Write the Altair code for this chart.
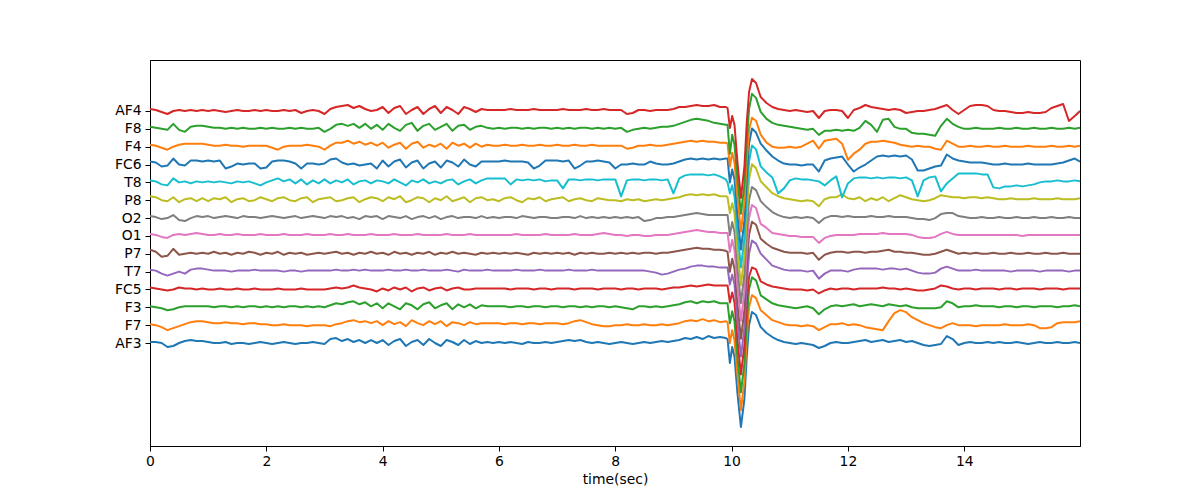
import altair as alt
import pandas as pd

channels = ["AF3", "F7", "F3", "FC5", "T7", "P7", "O1", "O2", "P8", "T8", "FC6", "F4", "F8", "AF4"]
colors = ["#1f77b4", "#ff7f0e", "#2ca02c", "#d62728", "#9467bd", "#8c564b", "#e377c2",
          "#7f7f7f", "#bcbd22", "#17becf", "#1f77b4", "#ff7f0e", "#2ca02c", "#d62728"]
spacing = 17.85

# sample times (sec): 0.0..9.9, finer around the artifact, then 10.5..15.9 and the last sample
pre_time = [round(0.1 * k, 2) for k in range(100)]
spike_time = [9.93, 9.97, 10.01, 10.05, 10.1, 10.16, 10.22, 10.26, 10.3, 10.35, 10.42]
post_time = [round(10.5 + 0.1 * k, 2) for k in range(55)] + [15.99]
time = pre_time + spike_time + post_time

af3 = [1, 1, 0, -4, -3, 0, 2, 3, 2, 2,
       1, 0, 0, 1, -1, 0, 0, -1, 0, 1,
       0, -1, 0, 1, 0, -1, 0, 0, 1, 0,
       -1, 4, 5, 2, 4, 1, 3, 0, 3, 0,
       3, -2, 2, 4, -3, 1, 3, -2, 4, 0,
       -3, 3, 1, -2, 3, -1, 2, 0, 1, 0,
       1, 0, 1, 0, -1, 1, 0, 0, 1, 0,
       1, 2, 3, 2, 3, 1, 0, 1, 0, -1,
       0, 1, 0, -1, 0, 1, 0, 1, 2, 1,
       2, 3, 5, 4, 6, 4, 7, 5, 6, 5,
       4, -20, -4, -14, -50, -84, -56, -14, 18, 31, 28,
       16, 10, 6, 3, 1, 0, -1, 0, -1, -2,
       -5, -3, 0, 1, 0, 0, 1, 2, 3, 1,
       2, 3, 1, 2, 3, 1, 2, 0, -2, -3,
       -2, -1, 7, 4, -2, 0, 1, 0, 0, 1,
       0, 1, 0, 0, 1, 0, -1, 0, 1, 0,
       0, 1, 0, 0, 1, 0]

f7 = [1, 0, -2, -5, -3, -1, 1, 3, 4, 4,
      3, 2, 2, 3, 2, 2, 1, 2, 2, 1,
      1, 0, 0, 1, 0, 0, 0, -1, 0, 0,
      0, -1, 1, 2, 4, 5, 3, 4, 2, 4,
      0, 4, 1, 3, -1, 5, 2, 0, 4, 1,
      4, -1, 3, 2, 0, 3, 1, 2, 2, 2,
      2, 1, 2, 2, 1, 2, 2, 1, 2, 2,
      2, 1, 2, 4, 5, 3, 1, 0, -1, -1,
      0, 0, 1, 0, 0, 1, 0, 0, 1, 0,
      1, 2, 4, 5, 4, 6, 4, 5, 3, 4,
      3, -18, -5, -15, -50, -85, -56, -14, 18, 30, 27,
      15, 10, 5, 3, 1, 0, 0, -1, 0, -1,
      -5, -2, 1, 1, 2, 0, 1, 0, -2, -3,
      -4, -5, 4, 12, 15, 13, 8, 5, 2, 0,
      -2, -3, 0, 2, 0, 0, 0, -1, 0, 0,
      0, 0, 1, 0, 0, 0, 1, 0, -3, -3,
      -2, 2, 3, 3, 3, 4]

f3 = [1, 0, -1, -3, -2, 0, 1, 1, 1, 1,
      1, 0, 1, 1, 0, 1, 0, 1, 1, 0,
      1, 0, 1, 0, 1, 1, 0, 1, 0, 1,
      0, 2, 4, 3, 5, 6, 3, 5, 1, 4,
      -1, 4, 1, -2, 4, 2, -2, 3, 5, -1,
      2, 4, -2, 3, 0, 3, -1, 2, 1, 1,
      1, 1, 0, 1, 1, 0, 1, 1, 0, 1,
      1, 0, 1, 1, 0, 1, 0, 1, 1, 0,
      1, 0, -1, -2, 1, 1, 0, 1, 0, 1,
      2, 3, 5, 6, 4, 6, 5, 6, 4, 4,
      4, -16, -4, -14, -50, -85, -56, -14, 18, 30, 27,
      12, 8, 4, 2, 1, 0, -1, 0, 1, -1,
      -7, -2, 1, 2, 1, 2, 3, 1, 2, 3,
      2, 1, 3, 2, 1, 2, 0, -1, -1, -1,
      -1, 0, 6, 4, 0, 1, 1, 2, 1, 1,
      1, 0, 1, 1, 0, 1, 1, 0, 1, 1,
      1, 0, 1, 1, 2, 1]

fc5 = [2, 1, 0, -1, 0, 2, 1, 1, 0, 1,
       0, 0, 1, 0, 0, 1, 0, 0, 1, 0,
       0, 0, 1, 0, 0, 0, 1, 0, 0, 0,
       0, 1, 2, 1, 2, 4, 2, 1, 0, -2,
       1, -1, 2, 0, 2, -2, 1, 2, -1, 1,
       2, -1, 1, 2, 0, 0, 1, 1, 1, 1,
       1, 1, 0, 1, 1, 1, 0, 1, 1, 0,
       1, 1, 1, 0, 1, 1, 1, 0, 1, 1,
       1, 0, 1, 1, 0, 1, 1, 1, 0, 1,
       2, 2, 3, 4, 3, 4, 5, 4, 4, 4,
       4, -13, -3, -13, -50, -85, -56, -14, 13, 22, 20,
       8, 5, 3, 2, 1, 0, 0, 0, -1, 0,
       -4, -1, 1, 0, 1, 1, 0, 1, 1, 1,
       1, 2, 1, 1, 0, 1, 0, -1, -1, 0,
       1, 4, 3, 1, 0, 1, 1, 0, 1, 1,
       1, 0, 1, 1, 0, 1, 1, 1, 0, 1,
       1, 1, 0, 1, 1, 1]

t7 = [2, 1, -2, -4, -2, 0, -2, 2, 3, 3,
      2, 1, 1, 1, 0, 1, 1, 1, 2, 1,
      1, 1, 1, 0, 1, 1, 0, 1, 1, 1,
      1, 1, 2, 1, 1, 2, 1, 2, 1, 1,
      1, 2, 1, 1, 2, 1, 1, 2, 1, 1,
      1, 2, 1, 0, 2, 1, 1, 1, 2, 1,
      1, 1, 1, 2, 1, 1, 1, 2, 1, 1,
      1, 1, 2, 1, 1, 1, 2, 1, 1, 1,
      1, 1, 1, 1, 1, 1, 0, -1, -3, -2,
      0, 2, 3, 5, 6, 6, 5, 5, 4, 4,
      4, -13, -3, -13, -50, -85, -56, -14, 18, 31, 28,
      18, 12, 6, 4, 2, 1, 1, 1, 0, 1,
      -7, -2, 1, 1, 1, 0, 2, 3, 3, 3,
      3, 2, 3, 3, 2, 3, 1, -1, -2, -2,
      -1, 3, 5, 3, 1, 1, 1, 2, 1, 1,
      1, 1, 1, 0, 1, 1, 1, 1, 0, 1,
      1, 1, 1, 0, 1, 1]

p7 = [4, 2, -3, -2, 5, -1, 0, 1, 0, 1,
      0, 2, 0, 1, -1, 1, 0, 2, 1, -1,
      1, 0, 2, -1, 1, 0, 1, -1, 0, 1,
      0, 1, 2, 0, 1, -1, 1, 0, 2, 0,
      1, -1, 2, 0, 1, -1, 1, 0, 2, -1,
      1, 0, 2, 0, 1, 0, -1, 1, 0, 1,
      0, 1, 0, 1, 0, -1, 1, 0, 1, 0,
      1, 0, 1, -1, 1, 0, 1, 0, 0, 1,
      0, 1, 0, 1, 0, 1, 1, 0, 1, 1,
      2, 3, 4, 5, 6, 5, 5, 4, 4, 3,
      2, -18, -5, -15, -50, -85, -56, -14, 19, 32, 29,
      15, 10, 6, 4, 2, 1, 1, 1, 0, 1,
      -6, -1, 1, 2, 2, 1, 2, 2, 1, 2,
      2, 3, 4, 2, 2, 1, 1, 0, -1, -1,
      0, 2, 4, 2, 0, 1, 0, 1, 0, 0,
      1, 0, 0, 1, 0, 0, 1, 0, 0, 1,
      0, 0, 1, 0, 0, 0]

o1 = [2, 1, -1, -2, 1, 2, 1, 2, 3, 2,
      1, 1, 2, 1, 1, 2, 1, 1, 1, 2,
      1, 1, 1, 2, 1, 1, 1, 2, 1, 1,
      1, 2, 1, 1, 2, 1, 1, 1, 2, 1,
      1, 1, 2, 1, 1, 1, 2, 1, 1, 1,
      1, 2, 1, 1, 1, 2, 1, 1, 1, 1,
      1, 1, 1, 2, 1, 1, 1, 1, 2, 1,
      1, 1, 1, 2, 1, 1, 1, 2, 3, 2,
      1, 1, 0, 1, 1, 0, 0, 1, 1, 1,
      2, 3, 4, 5, 6, 5, 4, 4, 3, 3,
      3, -16, -4, -14, -50, -85, -56, -14, 18, 31, 28,
      12, 8, 3, 2, 1, 0, 0, -1, -1, -1,
      -7, -2, 0, 1, 1, 1, 1, 2, 2, 2,
      2, 3, 2, 2, 2, 2, 1, -1, -2, -2,
      -1, 2, 4, 2, 1, 1, 1, 1, 1, 1,
      1, 1, 1, 1, 1, 0, 1, 1, 1, 1,
      1, 1, 1, 1, 1, 1]

o2 = [2, 1, -1, 0, 3, -2, -3, 0, 2, 1,
      2, 0, 1, 2, 1, 0, 2, 1, 1, 0,
      1, 2, 1, 0, 1, 2, 0, 1, 2, 1,
      0, 2, 1, 2, 0, 1, -1, 2, 1, 2,
      -1, 2, 1, 0, 2, -1, 1, 2, 0, 2,
      -1, 1, 2, 0, 1, 1, 0, 2, 0, 1,
      0, 1, 1, 0, 2, 1, 0, 1, 1, 0,
      0, 1, 1, 0, 2, 0, 1, 0, 1, 0,
      1, 0, 1, 0, 1, -3, -2, 0, 0, 1,
      1, 2, 3, 4, 5, 4, 3, 3, 3, 3,
      3, -17, -4, -14, -50, -85, -56, -14, 18, 31, 28,
      17, 11, 6, 3, 1, 0, 1, 0, 1, 0,
      -5, 0, 2, 2, 1, 2, 1, 1, 1, 2,
      1, 1, 2, 1, 1, 1, 0, -1, -1, -2,
      0, 4, 5, 5, 2, 1, 0, 0, 1, 0,
      0, 1, 0, 0, 1, 0, 0, 1, 0, 0,
      1, 0, 0, 1, 0, 0]

p8 = [4, 3, 0, -1, 3, -2, 1, 2, -1, 2,
      -1, 2, 1, 3, -2, 1, 2, -1, 0, 3,
      1, -1, 2, 3, 0, -1, 2, 3, -2, 1,
      2, 3, -1, 0, 2, 3, -2, 1, 3, 2,
      -1, 3, 1, 4, -2, 0, 3, 2, -2, 2,
      0, 4, -1, 1, 3, -2, 2, 3, 0, 1,
      -1, 2, 3, 0, -2, 2, 1, 3, -1, 1,
      2, 3, -1, 1, 2, 0, -1, 2, 1, 0,
      0, -1, 1, 0, 1, -1, 0, 1, 0, 1,
      2, 3, 5, 6, 5, 6, 5, 6, 4, 4,
      3, -13, -3, -13, -50, -85, -56, -14, 21, 36, 32,
      19, 13, 7, 4, 2, 1, 0, -1, 0, -1,
      -6, 1, 3, 3, 6, 2, 1, 3, -1, 2,
      0, 3, -1, 2, 5, 3, 1, 0, -1, 0,
      2, 5, 4, 3, 3, 2, 3, 3, 2, 3,
      2, 1, 1, 2, 1, 1, 1, 2, 1, 1,
      1, 2, 1, 1, 1, 2]

t8 = [2, 1, -2, -3, 4, 0, 1, -1, 1, 0,
      1, 0, 1, 0, -1, 1, 0, 1, -1, -3,
      0, 2, 4, 1, 3, -1, 3, -2, 2, -1,
      3, -1, 2, 0, 3, -2, 1, 2, -1, 2,
      1, -1, 3, 0, -3, 2, 0, 3, -1, 1,
      -1, 2, 3, -2, 1, 3, -1, 2, 4, 4,
      4, 4, -2, 3, 2, 3, 2, 3, 1, 2,
      2, -6, 3, 3, 2, 3, 3, 2, 3, 3,
      3, -14, 2, 3, 3, 2, 3, 3, 2, 3,
      -11, 4, 7, 8, 8, 8, 7, 8, 6, 3,
      0, -11, -3, -14, -50, -85, -56, -14, 21, 37, 33,
      16, 10, 5, -11, -6, 2, 4, 3, 3, 2,
      1, -3, 2, 6, -15, -1, 4, 5, 5, 4,
      5, 4, 5, 5, 4, 5, 2, -14, 2, 5,
      6, -9, -1, 4, 9, 9, 9, 9, 8, 8,
      -5, -6, -4, -4, -3, -4, -3, -2, 0, 1,
      1, 2, 1, 1, 2, 1]

fc6 = [3, 2, -2, -1, 6, 0, -1, 4, 4, 3,
       4, 3, 4, -4, -2, 1, 0, 1, 1, -4,
       -3, 3, 4, 4, 3, 1, -4, 1, 1, 0,
       1, 5, 6, 2, 0, 1, -1, 0, 1, -4,
       4, -2, 3, 5, -3, 2, 4, -4, 1, 3,
       -3, 4, 2, -2, 5, 0, -2, 3, 3, 3,
       3, 4, 3, 3, 3, 2, -4, -1, 4, 4,
       4, 3, 4, -4, -1, 3, 3, 4, 3, 2,
       -4, 0, 0, 1, 0, 0, 3, 1, 0, 0,
       1, 3, 5, 6, 5, 6, 5, 6, 5, 6,
       6, -18, -5, -15, -50, -85, -56, -14, 21, 36, 32,
       21, 14, 8, 4, 1, 0, 0, -1, 0, 0,
       -7, 4, 6, 7, 8, 0, -7, -3, 0, 4,
       8, 9, 8, 9, 8, 9, 5, -6, -6, -4,
       -2, -1, 10, 6, 4, 3, 2, 2, 2, 1,
       0, 0, 1, 0, 0, 0, 1, 0, 0, 0,
       0, 1, 2, 4, 6, 3]

f4 = [2, 1, -1, -3, 0, 2, 3, 3, 3, 3,
      2, 1, 1, 2, 1, 1, 0, 1, 1, 1,
      1, -1, -3, 0, 1, 1, 1, 2, 1, 0,
      -3, 1, 4, 4, 6, 3, 5, 2, 4, 1,
      4, -1, 2, 4, -2, 3, 5, -1, 2, 0,
      3, -2, 4, 1, 3, -1, 3, 0, 2, 1,
      1, 2, 1, 1, 2, 1, 1, 2, 1, 1,
      2, 1, 1, 2, 1, 1, 2, 1, 1, 1,
      1, 1, -2, -1, 1, 1, 2, 1, 1, 2,
      3, 4, 5, 6, 5, 6, 5, 5, 4, 4,
      3, -20, -6, -16, -50, -85, -56, -14, 17, 29, 26,
      12, 4, 0, -1, -1, 0, -1, 0, 3, 6,
      -2, 6, 7, 8, 3, -13, -7, -3, 3, 5,
      5, 6, 5, 4, 2, 1, 0, 1, 0, 0,
      -2, -3, 6, 3, 0, 0, 1, 0, 0, 1,
      0, 0, 1, 0, 0, 0, 1, 0, 0, 0,
      1, 0, 0, 1, 0, 1]

f8 = [2, 1, 0, -1, 5, -1, -3, 2, 3, 3,
      2, 1, 1, 0, 1, 0, 1, 0, 0, 1,
      0, 1, 0, 0, 1, 0, 1, 0, 0, 1,
      -3, 0, 4, 5, 3, 5, 1, 5, 0, 4,
      -1, 5, 1, -2, 4, 6, -2, 3, 5, -1,
      2, 5, -2, 3, 4, -1, 2, 3, 1, 0,
      1, 0, 1, 1, 0, 1, 0, 1, 1, 0,
      1, 0, 1, 0, 1, 1, 0, 1, 0, 1,
      0, 1, -3, -1, 0, 1, 0, 1, 2, 2,
      3, 5, 7, 9, 10, 9, 8, 6, 5, 4,
      4, -25, -6, -16, -50, -85, -56, -14, 20, 35, 31,
      17, 10, 6, 4, 3, 2, 1, 0, -1, 0,
      -6, -2, -2, -1, -2, -1, -2, 1, 8, 4,
      -3, 9, 10, 2, 0, 0, -4, -5, -5, -6,
      -7, 3, 10, 5, 2, 0, 0, 1, 0, 0,
      0, 1, 0, 0, 1, 0, 0, 1, 0, 0,
      1, 0, 0, 1, 0, 1]

af4 = [2, 1, -1, -3, 0, 1, 0, 1, 0, 1,
       0, 1, 0, -1, 0, 1, 0, 0, 1, 0,
       1, 0, 0, 1, 0, 1, -2, 0, 1, 0,
       -3, 2, 4, 5, 6, 3, 5, 2, 0, 1,
       4, -2, 3, 5, -3, 1, 4, -3, 2, 5,
       -2, 4, 1, -3, 4, 2, -1, 2, 1, 1,
       1, 1, 2, 1, 1, 1, 2, 1, 1, 1,
       1, 2, 1, 1, 1, 2, 1, 1, 2, 1,
       1, 1, -3, -2, 1, 1, 0, 1, 1, 1,
       2, 4, 4, 5, 6, 5, 5, 6, 4, 4,
       3, -17, -5, -14, -51, -87, -56, -12, 19, 32, 28,
       14, 8, 4, 2, 1, 0, 1, 0, -1, 0,
       -7, 0, 1, 1, 0, -7, 1, 3, 6, 4,
       3, 2, 1, 2, 1, -2, -1, 0, 0, 1,
       2, 4, 6, 1, -3, 1, 5, 6, 6, 5,
       1, 0, 0, -1, -2, -2, -1, -2, -2, -1,
       3, 5, 7, -10, -5, 0]

series = [af3, f7, f3, fc5, t7, p7, o1, o2, p8, t8, fc6, f4, f8, af4]

rows = []
for i, (name, vals) in enumerate(zip(channels, series)):
    assert len(vals) == len(time), (name, len(vals), len(time))
    for t, v in zip(time, vals):
        rows.append({"t": t, "y": i * spacing + v, "ch": name})
df = pd.DataFrame(rows)

offsets = [round(i * spacing, 3) for i in range(len(channels))]
label_expr = "[" + ",".join("'%s'" % c for c in channels) + "][round(datum.value / %s)]" % spacing

x_enc = alt.X("t:Q",
              scale=alt.Scale(domain=[0, 15.99], nice=False, zero=False),
              axis=alt.Axis(values=[0, 2, 4, 6, 8, 10, 12, 14], format="d", title="time(sec)",
                            grid=False, labelFlush=False, tickSize=5, labelPadding=3,
                            titlePadding=5))
y_enc = alt.Y("y:Q",
              scale=alt.Scale(domain=[-103, 283.05], nice=False, zero=False),
              axis=alt.Axis(values=offsets, labelExpr=label_expr, title=None, grid=False,
                            labelFlush=False, tickSize=5, labelPadding=4))

layers = []
for i, name in enumerate(channels):
    layers.append(
        alt.Chart(df[df["ch"] == name]).mark_line(color=colors[i], strokeWidth=2, clip=True,
                                                  strokeJoin="round")
        .encode(x=x_enc, y=y_enc, order=alt.Order("t:Q"))
    )

chart = (
    alt.layer(*layers)
    .properties(width=930, height=386,
                autosize=alt.AutoSizeParams(type="none"),
                padding={"left": 142, "top": 52, "right": 100, "bottom": 46})
    .configure(font="DejaVu Sans")
    .configure_view(stroke="black", strokeWidth=1)
    .configure_axis(domainColor="black", tickColor="black", labelColor="black",
                    titleColor="black", labelFontSize=13.9, titleFontSize=13.9,
                    titleFontWeight="normal", domainWidth=1, tickWidth=1)
)

chart.save("out.html", embed_options={"renderer": "svg", "actions": False})
